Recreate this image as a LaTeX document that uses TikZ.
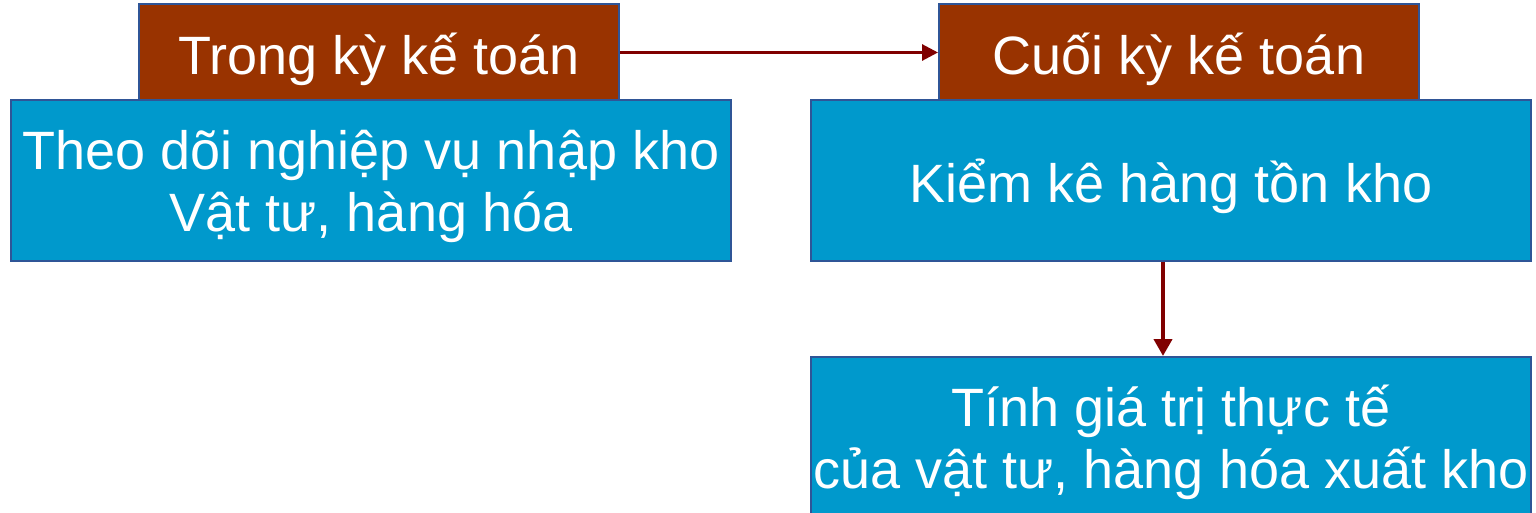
\documentclass[tikz,border=0pt]{standalone}
\usepackage{fontspec}
\setmainfont{Liberation Sans}
\usetikzlibrary{arrows.meta}
\definecolor{hdr}{HTML}{993300}
\definecolor{bodyc}{HTML}{0099CC}
\definecolor{edge}{HTML}{2F5597}
\definecolor{arr}{HTML}{800000}
% #1 height, #2 depth of the box (sets where the first baseline sits), #3 lines separated by \cr
\newcommand{\boxtext}[3]{\raisebox{0pt}[#1][#2]{\vtop{\fontsize{54}{62}\selectfont\lineskiplimit=-\maxdimen\lineskip=0pt\halign{\hfil##\hfil\cr#3\cr}}}}
\begin{document}
\begin{tikzpicture}[x=1pt,y=-1pt,
  hdrbox/.style={draw=edge,line width=2pt,fill=hdr,text=white,minimum width=480pt,minimum height=96pt,inner sep=0pt},
  bodybox/.style={draw=edge,line width=2pt,fill=bodyc,text=white,minimum width=720pt,minimum height=160pt,inner sep=0pt},
  conn/.style={draw=arr,line width=3pt,-{Triangle[length=16pt,width=16pt]}},
  connv/.style={draw=arr,line width=4pt,-{Triangle[length=17pt,width=18pt]}}]
\useasboundingbox (0,0) rectangle (1536,513);
\fill[white] (0,0) rectangle (1536,513);
\node[hdrbox] (h1) at (379,52.5) {\boxtext{43.6pt}{0pt}{Trong kỳ kế toán}};
\node[bodybox] (b1) at (371,180.5) {\boxtext{0pt}{21pt}{Theo dõi nghiệp vụ nhập kho\cr Vật tư, hàng hóa}};
\node[hdrbox] (h2) at (1179,52.5) {\boxtext{43.6pt}{0pt}{Cuối kỳ kế toán}};
\node[bodybox] (b2) at (1171,180.5) {\boxtext{44.4pt}{0pt}{Kiểm kê hàng tồn kho}};
\node[bodybox,minimum height=180pt] (b3) at (1171,447) {\boxtext{0pt}{40.6pt}{Tính giá trị thực tế\cr của vật tư, hàng hóa xuất kho}};
\draw[conn] (h1.east) -- (h2.west);
\draw[connv] ([xshift=-8pt]b2.south) -- ([xshift=-8pt]b3.north);
\end{tikzpicture}
\end{document}
